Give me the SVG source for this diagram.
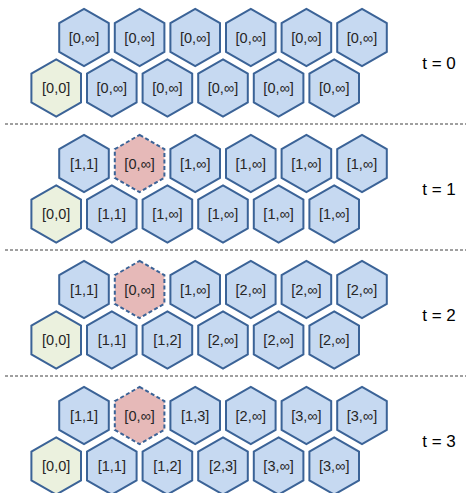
<svg xmlns="http://www.w3.org/2000/svg" width="466" height="493" viewBox="0 0 466 493">
<style>
.hex{fill:#c6d9f1;stroke:#3b6397;stroke-width:2}
.start{fill:#ebf1de;stroke:#3b6397;stroke-width:2}
.blk{fill:#e6b9b8;stroke:#3b6397;stroke-width:2;stroke-dasharray:4 2.5}
.lbl{font-family:"Liberation Sans",Arial,sans-serif;font-size:14.5px;fill:#262626;text-anchor:middle}
.t{font-family:"Liberation Sans",Arial,sans-serif;font-size:17px;fill:#000;text-anchor:middle}
.sep{stroke:#404040;stroke-width:1;stroke-dasharray:3 2;fill:none}
</style>
<defs>
<path id="h" d="M0,-28.6 L24.8,-14.3 L24.8,14.3 L0,28.6 L-24.8,14.3 L-24.8,-14.3 Z"/>
</defs>
<g id="separators">
<line class="sep" x1="5" y1="124" x2="466" y2="124"/>
<line class="sep" x1="5" y1="250" x2="466" y2="250"/>
<line class="sep" x1="5" y1="376" x2="466" y2="376"/>
</g>
<g id="connectors"/>
<!-- t=0 -->
<g id="p0" transform="translate(0,0)">
<g id="p0-a1" transform="translate(84,37.5)"><use href="#h" class="hex"/><text class="lbl" y="5">[0,∞]</text></g>
<g id="p0-a2" transform="translate(139.6,37.5)"><use href="#h" class="hex"/><text class="lbl" y="5">[0,∞]</text></g>
<g id="p0-a3" transform="translate(195.2,37.5)"><use href="#h" class="hex"/><text class="lbl" y="5">[0,∞]</text></g>
<g id="p0-a4" transform="translate(250.8,37.5)"><use href="#h" class="hex"/><text class="lbl" y="5">[0,∞]</text></g>
<g id="p0-a5" transform="translate(306.4,37.5)"><use href="#h" class="hex"/><text class="lbl" y="5">[0,∞]</text></g>
<g id="p0-a6" transform="translate(362,37.5)"><use href="#h" class="hex"/><text class="lbl" y="5">[0,∞]</text></g>
<g id="p0-b1" transform="translate(56.2,88)"><use href="#h" class="start"/><text class="lbl" y="5">[0,0]</text></g>
<g id="p0-b2" transform="translate(111.8,88)"><use href="#h" class="hex"/><text class="lbl" y="5">[0,∞]</text></g>
<g id="p0-b3" transform="translate(167.4,88)"><use href="#h" class="hex"/><text class="lbl" y="5">[0,∞]</text></g>
<g id="p0-b4" transform="translate(223,88)"><use href="#h" class="hex"/><text class="lbl" y="5">[0,∞]</text></g>
<g id="p0-b5" transform="translate(278.6,88)"><use href="#h" class="hex"/><text class="lbl" y="5">[0,∞]</text></g>
<g id="p0-b6" transform="translate(334.2,88)"><use href="#h" class="hex"/><text class="lbl" y="5">[0,∞]</text></g>
<text class="t" x="439" y="69">t = 0</text>
</g>
<!-- t=1 -->
<g id="p1" transform="translate(0,126)">
<g id="p1-a1" transform="translate(84,37.5)"><use href="#h" class="hex"/><text class="lbl" y="5">[1,1]</text></g>
<g id="p1-a2" transform="translate(139.6,37.5)"><use href="#h" class="blk"/><text class="lbl" y="5">[0,∞]</text></g>
<g id="p1-a3" transform="translate(195.2,37.5)"><use href="#h" class="hex"/><text class="lbl" y="5">[1,∞]</text></g>
<g id="p1-a4" transform="translate(250.8,37.5)"><use href="#h" class="hex"/><text class="lbl" y="5">[1,∞]</text></g>
<g id="p1-a5" transform="translate(306.4,37.5)"><use href="#h" class="hex"/><text class="lbl" y="5">[1,∞]</text></g>
<g id="p1-a6" transform="translate(362,37.5)"><use href="#h" class="hex"/><text class="lbl" y="5">[1,∞]</text></g>
<g id="p1-b1" transform="translate(56.2,88)"><use href="#h" class="start"/><text class="lbl" y="5">[0,0]</text></g>
<g id="p1-b2" transform="translate(111.8,88)"><use href="#h" class="hex"/><text class="lbl" y="5">[1,1]</text></g>
<g id="p1-b3" transform="translate(167.4,88)"><use href="#h" class="hex"/><text class="lbl" y="5">[1,∞]</text></g>
<g id="p1-b4" transform="translate(223,88)"><use href="#h" class="hex"/><text class="lbl" y="5">[1,∞]</text></g>
<g id="p1-b5" transform="translate(278.6,88)"><use href="#h" class="hex"/><text class="lbl" y="5">[1,∞]</text></g>
<g id="p1-b6" transform="translate(334.2,88)"><use href="#h" class="hex"/><text class="lbl" y="5">[1,∞]</text></g>
<text class="t" x="439" y="69">t = 1</text>
</g>
<!-- t=2 -->
<g id="p2" transform="translate(0,252)">
<g id="p2-a1" transform="translate(84,37.5)"><use href="#h" class="hex"/><text class="lbl" y="5">[1,1]</text></g>
<g id="p2-a2" transform="translate(139.6,37.5)"><use href="#h" class="blk"/><text class="lbl" y="5">[0,∞]</text></g>
<g id="p2-a3" transform="translate(195.2,37.5)"><use href="#h" class="hex"/><text class="lbl" y="5">[1,∞]</text></g>
<g id="p2-a4" transform="translate(250.8,37.5)"><use href="#h" class="hex"/><text class="lbl" y="5">[2,∞]</text></g>
<g id="p2-a5" transform="translate(306.4,37.5)"><use href="#h" class="hex"/><text class="lbl" y="5">[2,∞]</text></g>
<g id="p2-a6" transform="translate(362,37.5)"><use href="#h" class="hex"/><text class="lbl" y="5">[2,∞]</text></g>
<g id="p2-b1" transform="translate(56.2,88)"><use href="#h" class="start"/><text class="lbl" y="5">[0,0]</text></g>
<g id="p2-b2" transform="translate(111.8,88)"><use href="#h" class="hex"/><text class="lbl" y="5">[1,1]</text></g>
<g id="p2-b3" transform="translate(167.4,88)"><use href="#h" class="hex"/><text class="lbl" y="5">[1,2]</text></g>
<g id="p2-b4" transform="translate(223,88)"><use href="#h" class="hex"/><text class="lbl" y="5">[2,∞]</text></g>
<g id="p2-b5" transform="translate(278.6,88)"><use href="#h" class="hex"/><text class="lbl" y="5">[2,∞]</text></g>
<g id="p2-b6" transform="translate(334.2,88)"><use href="#h" class="hex"/><text class="lbl" y="5">[2,∞]</text></g>
<text class="t" x="439" y="69">t = 2</text>
</g>
<!-- t=3 -->
<g id="p3" transform="translate(0,378)">
<g id="p3-a1" transform="translate(84,37.5)"><use href="#h" class="hex"/><text class="lbl" y="5">[1,1]</text></g>
<g id="p3-a2" transform="translate(139.6,37.5)"><use href="#h" class="blk"/><text class="lbl" y="5">[0,∞]</text></g>
<g id="p3-a3" transform="translate(195.2,37.5)"><use href="#h" class="hex"/><text class="lbl" y="5">[1,3]</text></g>
<g id="p3-a4" transform="translate(250.8,37.5)"><use href="#h" class="hex"/><text class="lbl" y="5">[2,∞]</text></g>
<g id="p3-a5" transform="translate(306.4,37.5)"><use href="#h" class="hex"/><text class="lbl" y="5">[3,∞]</text></g>
<g id="p3-a6" transform="translate(362,37.5)"><use href="#h" class="hex"/><text class="lbl" y="5">[3,∞]</text></g>
<g id="p3-b1" transform="translate(56.2,88)"><use href="#h" class="start"/><text class="lbl" y="5">[0,0]</text></g>
<g id="p3-b2" transform="translate(111.8,88)"><use href="#h" class="hex"/><text class="lbl" y="5">[1,1]</text></g>
<g id="p3-b3" transform="translate(167.4,88)"><use href="#h" class="hex"/><text class="lbl" y="5">[1,2]</text></g>
<g id="p3-b4" transform="translate(223,88)"><use href="#h" class="hex"/><text class="lbl" y="5">[2,3]</text></g>
<g id="p3-b5" transform="translate(278.6,88)"><use href="#h" class="hex"/><text class="lbl" y="5">[3,∞]</text></g>
<g id="p3-b6" transform="translate(334.2,88)"><use href="#h" class="hex"/><text class="lbl" y="5">[3,∞]</text></g>
<text class="t" x="439" y="69">t = 3</text>
</g>
</svg>
